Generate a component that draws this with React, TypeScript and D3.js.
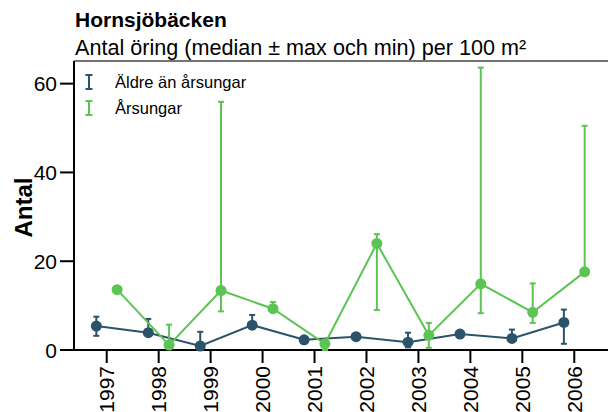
import React from "react";
import * as d3 from "d3";

const years = ["1997", "1998", "1999", "2000", "2001", "2002", "2003", "2004", "2005", "2006"];

// Äldre än årsungar
const olderMedian = [5.4, 3.9, 0.9, 5.6, 2.3, 3.0, 1.75, 3.6, 2.6, 6.2];
const olderMax = [7.5, 7.0, 4.1, 7.9, 2.3, 3.0, 3.9, 3.6, 4.6, 9.1];
const olderMin = [3.2, 3.6, 0.5, 5.4, 2.3, 3.0, 0.6, 3.6, 2.4, 1.4];

// Årsungar
const youngMedian = [13.6, 1.1, 13.4, 9.3, 1.4, 24.0, 3.3, 14.9, 8.5, 17.6];
const youngMax = [13.6, 5.7, 55.9, 10.8, 1.4, 26.1, 6.1, 63.6, 15.0, 50.5];
const youngMin = [13.6, 0.2, 8.7, 9.0, 0.0, 9.0, 0.5, 8.3, 6.1, 17.6];

const yTicks = [0, 20, 40, 60];

const seriesNames = ["Äldre än årsungar", "Årsungar"];
const seriesColors = ["#2b5369", "#5cc452"];

const W = 608;
const H = 412;
const left = 74;
const right = 607;
const top = 61;
const bottom = 350;

const App = () => {
  const x = d3.scalePoint<string>().domain(years).range([left, right]).padding(0.63);
  const y = d3.scaleLinear().domain([0, 65.1]).range([bottom, top]);
  const dodge = x.step() * 0.2;

  const series = [
    { name: seriesNames[0], color: seriesColors[0], med: olderMedian, max: olderMax, min: olderMin, off: -dodge },
    { name: seriesNames[1], color: seriesColors[1], med: youngMedian, max: youngMax, min: youngMin, off: dodge },
  ];

  const line = d3
    .line<number>()
    .x((_, i) => (x(years[i]) as number))
    .y((d) => y(d));

  const font = "Liberation Sans, Arial, sans-serif";

  return (
    <svg width={W} height={H} style={{ position: "absolute", left: 0, top: 0 }} fontFamily={font}>
      <rect width={W} height={H} fill="#fff" />
      <text x={75} y={27} fontSize={21} fontWeight="bold">Hornsjöbäcken</text>
      <text x={75} y={55} fontSize={21.6}>Antal öring (median ± max och min) per 100 m²</text>

      {/* panel top border */}
      <line x1={left} x2={W} y1={top} y2={top} stroke="#444" strokeWidth={1.5} />

      {/* y axis */}
      <line x1={left} x2={left} y1={top} y2={bottom} stroke="#000" strokeWidth={2} />
      {yTicks.map((t) => (
        <g key={t}>
          <line x1={left - 14} x2={left} y1={y(t)} y2={y(t)} stroke="#000" strokeWidth={2} />
          <text x={left - 17} y={y(t)} dy="0.36em" textAnchor="end" fontSize={21}>{t}</text>
        </g>
      ))}
      <text transform={`translate(32,${(top + bottom) / 2 + 2}) rotate(-90)`} textAnchor="middle" fontSize={24} fontWeight="bold">Antal</text>

      {/* x axis */}
      <line x1={left} x2={right + 1} y1={bottom} y2={bottom} stroke="#000" strokeWidth={2} />
      {years.map((yr) => (
        <g key={yr}>
          <line x1={x(yr)} x2={x(yr)} y1={bottom} y2={bottom + 13} stroke="#000" strokeWidth={2} />
          <text transform={`translate(${(x(yr) as number) + 7.5},${bottom + 16}) rotate(-90)`} textAnchor="end" fontSize={21}>{yr}</text>
        </g>
      ))}

      {series.map((s) => (
        <g key={s.name} transform={`translate(${s.off},0)`}>
          <path d={line(s.med) ?? ""} fill="none" stroke={s.color} strokeWidth={2} />
          {years.map((yr, i) => (
            <g key={yr}>
              <line x1={x(yr)} x2={x(yr)} y1={y(s.max[i])} y2={y(s.min[i])} stroke={s.color} strokeWidth={2} />
              <line x1={(x(yr) as number) - 3} x2={(x(yr) as number) + 3} y1={y(s.max[i])} y2={y(s.max[i])} stroke={s.color} strokeWidth={2} />
              <line x1={(x(yr) as number) - 3} x2={(x(yr) as number) + 3} y1={y(s.min[i])} y2={y(s.min[i])} stroke={s.color} strokeWidth={2} />
              <circle cx={x(yr)} cy={y(s.med[i])} r={5.5} fill={s.color} />
            </g>
          ))}
        </g>
      ))}

      {/* legend */}
      {series.map((s, i) => (
        <g key={s.name} transform={`translate(89,${82 + i * 26})`}>
          <line x1={0} x2={0} y1={-7} y2={7} stroke={s.color} strokeWidth={2} />
          <line x1={-3.5} x2={3.5} y1={-7} y2={-7} stroke={s.color} strokeWidth={2} />
          <line x1={-3.5} x2={3.5} y1={7} y2={7} stroke={s.color} strokeWidth={2} />
          <text x={26} y={0} dy="0.36em" fontSize={16.5}>{s.name}</text>
        </g>
      ))}
    </svg>
  );
};

export default App;
